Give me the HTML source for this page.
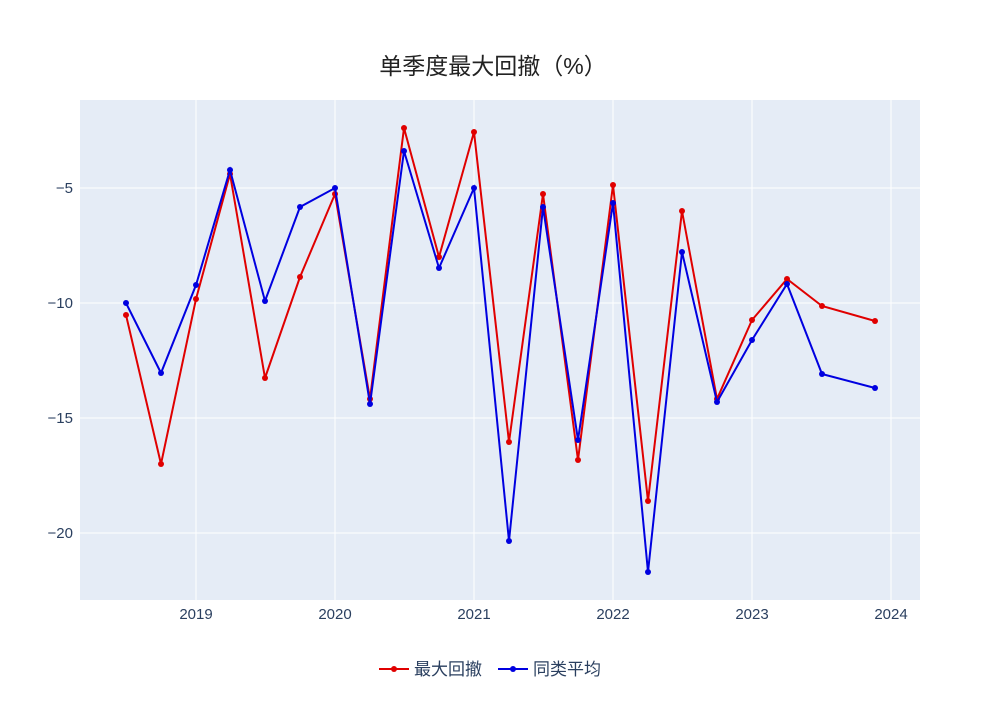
<!DOCTYPE html>
<html><head><meta charset="utf-8"><style>
body{margin:0;background:#fff;font-family:"Liberation Sans","Noto Sans CJK SC",sans-serif}
</style></head><body>
<svg width="1000" height="700" xmlns="http://www.w3.org/2000/svg" font-family="Liberation Sans, Noto Sans CJK SC, sans-serif">
<rect width="1000" height="700" fill="#fff"/>
<rect x="80" y="100" width="840" height="500" fill="#e5ecf6"/>
<g stroke="#fff" stroke-width="1">
<line x1="80" x2="920" y1="188" y2="188"/><line x1="80" x2="920" y1="303" y2="303"/>
<line x1="80" x2="920" y1="418" y2="418"/><line x1="80" x2="920" y1="533" y2="533"/>
<line y1="100" y2="600" x1="196" x2="196"/><line y1="100" y2="600" x1="335" x2="335"/>
<line y1="100" y2="600" x1="474" x2="474"/><line y1="100" y2="600" x1="613" x2="613"/>
<line y1="100" y2="600" x1="752" x2="752"/><line y1="100" y2="600" x1="891" x2="891"/>
</g>
<g fill="#2a3f5f" font-size="15" text-anchor="end">
<text x="73" y="193">−5</text><text x="73" y="308">−10</text><text x="73" y="423">−15</text><text x="73" y="538">−20</text>
</g>
<g fill="#2a3f5f" font-size="15" text-anchor="middle">
<text x="196" y="619">2019</text><text x="335" y="619">2020</text><text x="474" y="619">2021</text>
<text x="613" y="619">2022</text><text x="752" y="619">2023</text><text x="891" y="619">2024</text>
</g>
<text x="493" y="74" text-anchor="middle" font-size="23" fill="#222">单季度最大回撤（%）</text>
<polyline fill="none" stroke="#e00000" stroke-width="2" points="126,315 161,464 196,299 230,174 265,378 300,277 335,194 370,399 404,128 439,257 474,132 509,442 543,194 578,460 613,185 648,501 682,211 717,399 752,320 787,279 822,306 875,321"/>
<g fill="#e00000">
<circle cx="126" cy="315" r="3"/><circle cx="161" cy="464" r="3"/><circle cx="196" cy="299" r="3"/><circle cx="230" cy="174" r="3"/><circle cx="265" cy="378" r="3"/><circle cx="300" cy="277" r="3"/><circle cx="335" cy="194" r="3"/><circle cx="370" cy="399" r="3"/><circle cx="404" cy="128" r="3"/><circle cx="439" cy="257" r="3"/><circle cx="474" cy="132" r="3"/><circle cx="509" cy="442" r="3"/><circle cx="543" cy="194" r="3"/><circle cx="578" cy="460" r="3"/><circle cx="613" cy="185" r="3"/><circle cx="648" cy="501" r="3"/><circle cx="682" cy="211" r="3"/><circle cx="717" cy="399" r="3"/><circle cx="752" cy="320" r="3"/><circle cx="787" cy="279" r="3"/><circle cx="822" cy="306" r="3"/><circle cx="875" cy="321" r="3"/>
</g>
<polyline fill="none" stroke="#0000e0" stroke-width="2" points="126,303 161,373 196,285 230,170 265,301 300,207 335,188 370,404 404,151 439,268 474,188 509,541 543,207 578,440 613,203 648,572 682,252 717,402 752,340 787,284 822,374 875,388"/>
<g fill="#0000e0">
<circle cx="126" cy="303" r="3"/><circle cx="161" cy="373" r="3"/><circle cx="196" cy="285" r="3"/><circle cx="230" cy="170" r="3"/><circle cx="265" cy="301" r="3"/><circle cx="300" cy="207" r="3"/><circle cx="335" cy="188" r="3"/><circle cx="370" cy="404" r="3"/><circle cx="404" cy="151" r="3"/><circle cx="439" cy="268" r="3"/><circle cx="474" cy="188" r="3"/><circle cx="509" cy="541" r="3"/><circle cx="543" cy="207" r="3"/><circle cx="578" cy="440" r="3"/><circle cx="613" cy="203" r="3"/><circle cx="648" cy="572" r="3"/><circle cx="682" cy="252" r="3"/><circle cx="717" cy="402" r="3"/><circle cx="752" cy="340" r="3"/><circle cx="787" cy="284" r="3"/><circle cx="822" cy="374" r="3"/><circle cx="875" cy="388" r="3"/>
</g>
<line x1="379" x2="409" y1="669" y2="669" stroke="#e00000" stroke-width="2"/><circle cx="394" cy="669" r="3" fill="#e00000"/>
<text x="414" y="675" font-size="17" fill="#2a3f5f">最大回撤</text>
<line x1="498" x2="528" y1="669" y2="669" stroke="#0000e0" stroke-width="2"/><circle cx="513" cy="669" r="3" fill="#0000e0"/>
<text x="533" y="675" font-size="17" fill="#2a3f5f">同类平均</text>
</svg>
</body></html>
